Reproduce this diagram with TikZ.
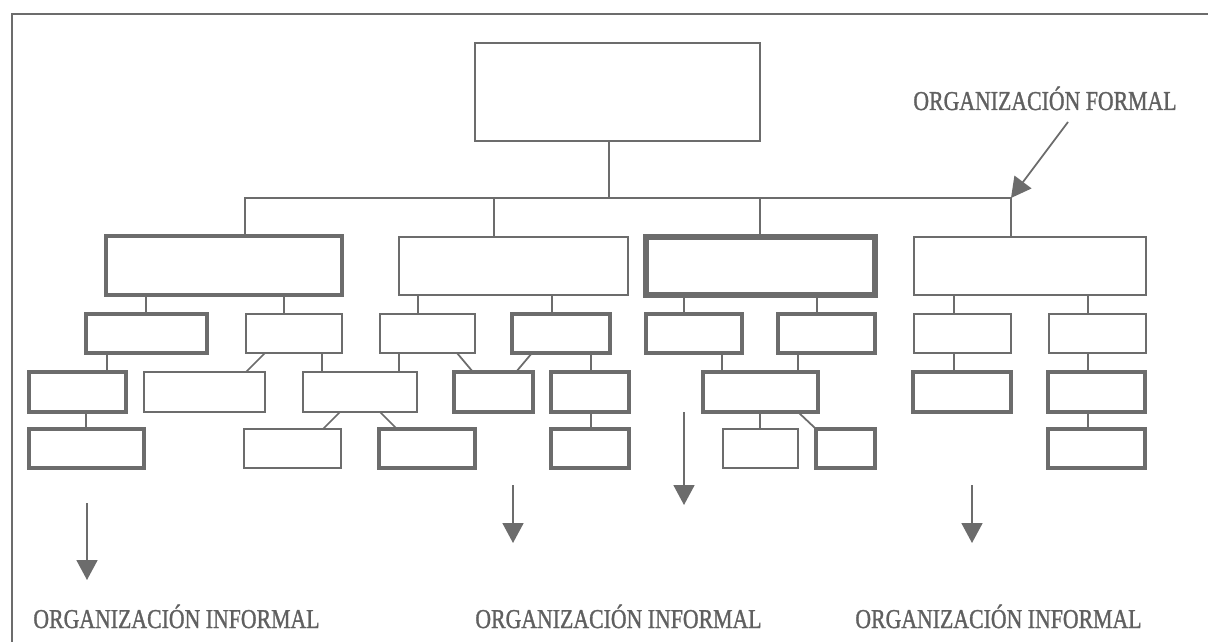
\documentclass[tikz,border=0pt]{standalone}
\usepackage{fontspec}
\setmainfont{Liberation Serif}
\newfontfamily\capfont[FakeBold=1.3]{Liberation Serif}
\usetikzlibrary{arrows.meta}
\definecolor{ink}{RGB}{108,108,108}
\definecolor{inktext}{RGB}{96,96,96}
% box by its corners: style, x1, y1, x2, y2, name
\newcommand\orgbox[6]{%
  \node[#1, minimum width={(#4-#2)*0.02cm}, minimum height={(#5-#3)*0.02cm}]
    (#6) at ({(#2+#4)/2},{(#3+#5)/2}) {};}
\newcommand\orglabel[1]{\scalebox{0.80}[1]{#1}}
\begin{document}
\begin{tikzpicture}[x=0.02cm,y=-0.02cm,
  unit/.style={draw=ink, inner sep=0pt, outer sep=0pt},
  thinbox/.style={unit, line width=1pt},
  boldbox/.style={unit, line width=1.9pt},
  heavybox/.style={unit, line width=2.9pt},
  link/.style={draw=ink, line width=1pt},
  pointer/.style={draw=ink, fill=ink, line width=1pt,
    -{Triangle[width=0.42cm,length=0.4cm]}},
  caption/.style={anchor=base west, inner sep=0pt, text=inktext,
    font=\capfont\fontsize{15.5}{18}\selectfont}
]
\useasboundingbox (0,0) rectangle (1208,642);
\fill[white] (0,0) rectangle (1208,642);
% frame
\draw[ink, line width=1.2pt] (12,642) -- (12,14) -- (1208,14);

% head
\orgbox{thinbox}{475}{43}{760}{141}{top}
% second level
\orgbox{boldbox}{106}{236}{342}{295}{A}
\orgbox{thinbox}{399}{237}{628}{295}{B}
\orgbox{heavybox}{646}{237}{875}{295}{C}
\orgbox{thinbox}{914}{237}{1146}{295}{D}
% third level
\orgbox{boldbox}{86}{314}{207}{353}{A1}
\orgbox{thinbox}{246}{314}{342}{353}{A2}
\orgbox{thinbox}{380}{314}{475}{353}{B1}
\orgbox{boldbox}{512}{314}{610}{353}{B2}
\orgbox{boldbox}{646}{314}{742}{353}{C1}
\orgbox{boldbox}{778}{314}{875}{353}{C2}
\orgbox{thinbox}{914}{314}{1011}{353}{D1}
\orgbox{thinbox}{1049}{314}{1146}{353}{D2}
% fourth level
\orgbox{boldbox}{29}{372}{126}{412}{A1a}
\orgbox{thinbox}{144}{372}{265}{412}{A2a}
\orgbox{thinbox}{303}{372}{417}{412}{M}
\orgbox{boldbox}{454}{372}{533}{412}{N}
\orgbox{boldbox}{551}{372}{629}{412}{P}
\orgbox{boldbox}{703}{372}{818}{412}{Q}
\orgbox{boldbox}{913}{372}{1011}{412}{D1a}
\orgbox{boldbox}{1048}{372}{1145}{412}{D2a}
% fifth level
\orgbox{boldbox}{29}{429}{144}{468}{A1b}
\orgbox{thinbox}{244}{429}{341}{468}{M1}
\orgbox{boldbox}{379}{429}{475}{468}{M2}
\orgbox{boldbox}{551}{429}{629}{468}{P2}
\orgbox{thinbox}{723}{429}{798}{468}{Q1}
\orgbox{boldbox}{816}{429}{875}{468}{Q2}
\orgbox{boldbox}{1048}{429}{1145}{468}{D2b}

% bus under the head
\coordinate (busL) at (245,198);
\coordinate (busR) at (1011,198);
\draw[link] (top.south -| 609,0) -- (busL -| 609,0);
\draw[link] (A.north -| busL) -- (busL) -- (busR) -- (D.north -| busR);
\draw[link] (busL -| 494,0) -- (B.north -| 494,0);
\draw[link] (busL -| 760,0) -- (C.north -| 760,0);

% second to third level
\draw[link] (A.south -| 146,0) -- (A1.north -| 146,0);
\draw[link] (A.south -| 284,0) -- (A2.north -| 284,0);
\draw[link] (B.south -| 418,0) -- (B1.north -| 418,0);
\draw[link] (B.south -| 552,0) -- (B2.north -| 552,0);
\draw[link] (C.south -| 684,0) -- (C1.north -| 684,0);
\draw[link] (C.south -| 817,0) -- (C2.north -| 817,0);
\draw[link] (D.south -| 954,0) -- (D1.north -| 954,0);
\draw[link] (D.south -| 1088,0) -- (D2.north -| 1088,0);

% third to fourth level
\draw[link] (A1.south -| 107,0) -- (A1a.north -| 107,0);
\draw[link] (A2.south -| 265,0) -- (A2a.north -| 246,0);
\draw[link] (A2.south -| 322,0) -- (M.north -| 322,0);
\draw[link] (B1.south -| 399,0) -- (M.north -| 399,0);
\draw[link] (B1.south -| 457,0) -- (N.north -| 473,0);
\draw[link] (B2.south -| 532,0) -- (N.north -| 516,0);
\draw[link] (B2.south -| 591,0) -- (P.north -| 591,0);
\draw[link] (C1.south -| 722,0) -- (Q.north -| 722,0);
\draw[link] (C2.south -| 798,0) -- (Q.north -| 798,0);
\draw[link] (D1.south -| 954,0) -- (D1a.north -| 954,0);
\draw[link] (D2.south -| 1088,0) -- (D2a.north -| 1088,0);

% fourth to fifth level
\draw[link] (A1a.south -| 86,0) -- (A1b.north -| 86,0);
\draw[link] (M.south -| 340,0) -- (M1.north -| 323,0);
\draw[link] (M.south -| 380,0) -- (M2.north -| 397,0);
\draw[link] (P.south -| 591,0) -- (P2.north -| 591,0);
\draw[link] (Q.south -| 760,0) -- (Q1.north -| 760,0);
\draw[link] (Q.south -| 798,0) -- (Q2.north -| 816,0);
\draw[link] (D2a.south -| 1088,0) -- (D2b.north -| 1088,0);

% captions
\node[caption] (formal) at (913,110) {\orglabel{ORGANIZACIÓN FORMAL}};
\node[caption] (infL) at (33,628) {\orglabel{ORGANIZACIÓN INFORMAL}};
\node[caption] (infM) at (475,628) {\orglabel{ORGANIZACIÓN INFORMAL}};
\node[caption] (infR) at (855,628) {\orglabel{ORGANIZACIÓN INFORMAL}};

% pointers
\coordinate (fstart) at (1068,122);
\draw[pointer] (fstart) -- (busR);
\coordinate (p1s) at (87,503);  \coordinate (p1e) at (87,580);
\coordinate (p2s) at (513,485); \coordinate (p2e) at (513,543);
\coordinate (p3s) at (684,412); \coordinate (p3e) at (684,505);
\coordinate (p4s) at (972,485); \coordinate (p4e) at (972,543);
\draw[pointer] (p1s) -- (p1e);
\draw[pointer] (p2s) -- (p2e);
\draw[pointer] (p3s) -- (p3e);
\draw[pointer] (p4s) -- (p4e);
\end{tikzpicture}
\end{document}
